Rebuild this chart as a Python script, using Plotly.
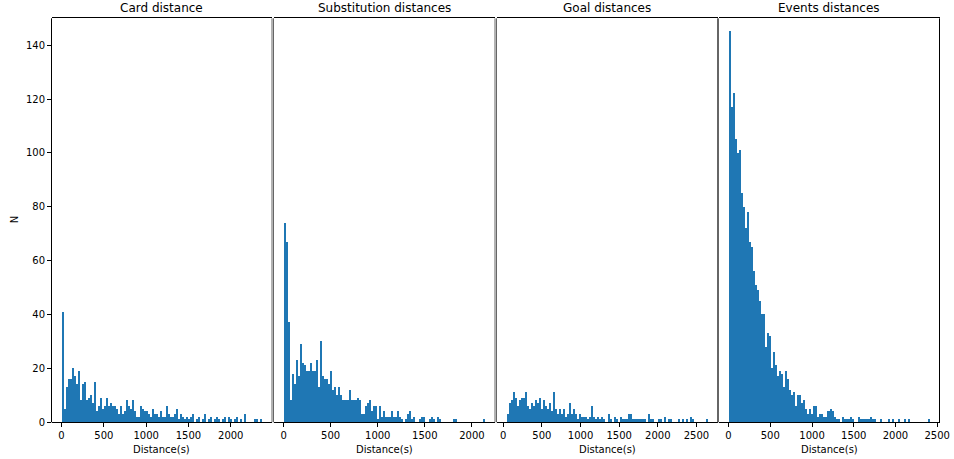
import numpy as np
import plotly.graph_objects as go

# Histogram counts (100 equal-width bins per panel)
card_counts = [
    41, 5, 13, 16, 16, 20, 17, 14, 19, 8,
    14, 15, 8, 9, 10, 7, 15, 4, 6, 9,
    5, 6, 9, 6, 7, 6, 6, 5, 3, 6,
    3, 4, 8, 6, 5, 8, 4, 2, 2, 6,
    5, 4, 4, 3, 2, 5, 3, 3, 2, 4,
    2, 2, 6, 3, 2, 2, 3, 5, 1, 3,
    2, 1, 2, 1, 2, 3, 0, 1, 2, 0,
    1, 3, 0, 1, 2, 0, 1, 2, 1, 0,
    1, 2, 0, 2, 1, 0, 1, 2, 0, 1,
    0, 3, 0, 0, 0, 0, 1, 1, 0, 1,
]
substitution_counts = [
    74, 67, 37, 8, 18, 14, 23, 17, 29, 22,
    21, 19, 19, 22, 19, 19, 23, 13, 30, 17,
    16, 16, 14, 19, 12, 13, 10, 13, 10, 8,
    8, 8, 12, 8, 8, 8, 9, 8, 3, 3,
    6, 7, 8, 4, 6, 6, 1, 6, 2, 4,
    2, 2, 2, 4, 2, 2, 4, 2, 1, 0,
    1, 3, 4, 1, 2, 0, 0, 1, 2, 2,
    0, 0, 1, 2, 1, 0, 2, 1, 0, 0,
    0, 0, 0, 0, 1, 1, 0, 0, 0, 0,
    0, 0, 0, 0, 0, 0, 0, 0, 0, 1,
]
goal_counts = [
    3, 7, 8, 11, 9, 6, 8, 9, 9, 11,
    6, 5, 7, 6, 8, 7, 9, 5, 8, 6,
    5, 7, 4, 11, 5, 3, 5, 3, 5, 2,
    3, 7, 3, 5, 3, 1, 3, 2, 2, 2,
    1, 2, 6, 2, 1, 2, 1, 2, 1, 0,
    3, 1, 0, 2, 1, 0, 2, 1, 1, 1,
    3, 3, 1, 1, 1, 1, 1, 1, 1, 0,
    3, 1, 1, 0, 0, 1, 1, 0, 2, 0,
    1, 1, 0, 0, 0, 1, 0, 1, 0, 1,
    0, 2, 1, 0, 0, 0, 0, 0, 0, 1,
]
events_counts = [
    145, 117, 122, 105, 100, 101, 85, 80, 72, 78,
    67, 65, 56, 51, 49, 45, 40, 40, 28, 33,
    32, 20, 26, 21, 17, 19, 18, 13, 19, 16,
    12, 10, 11, 6, 10, 10, 7, 8, 5, 3,
    5, 3, 6, 6, 2, 3, 3, 2, 2, 4,
    5, 4, 2, 1, 1, 0, 2, 1, 1, 1,
    2, 1, 0, 0, 2, 1, 1, 1, 1, 1,
    2, 1, 1, 0, 0, 1, 0, 0, 0, 1,
    0, 1, 0, 0, 1, 0, 0, 1, 0, 1,
    0, 0, 0, 0, 0, 0, 0, 0, 0, 1,
]

# Range of the distances (seconds) covered by each histogram
card_span = [0, 2369]
substitution_span = [0, 2138]
goal_span = [43, 2642]
events_span = [0, 2407]

panel_titles = ["Card distance", "Substitution distances", "Goal distances", "Events distances"]
x_ticks = [
    [0, 500, 1000, 1500, 2000],
    [0, 500, 1000, 1500, 2000],
    [0, 500, 1000, 1500, 2000, 2500],
    [0, 500, 1000, 1500, 2000, 2500],
]
y_ticks = [0, 20, 40, 60, 80, 100, 120, 140]
x_label = "Distance(s)"
y_label = "N"

panels = [
    (card_counts, card_span),
    (substitution_counts, substitution_span),
    (goal_counts, goal_span),
    (events_counts, events_span),
]

W, H = 954, 459
FONT = "DejaVu Sans"
BAR = "#1f77b4"

# Axes boxes in pixels (left, right) and shared top/bottom
x_boxes = [(51.5, 272.0), (273.5, 495.0), (496.5, 717.5), (718.5, 939.5)]
top_px, bottom_px = 18.3, 422.3
y_dom = [1 - bottom_px / H, 1 - top_px / H]

fig = go.Figure()
annotations = []
shapes = []

for i, ((counts, span), (lpx, rpx)) in enumerate(zip(panels, x_boxes)):
    n = i + 1
    sfx = "" if n == 1 else str(n)
    edges = np.linspace(span[0], span[1], len(counts) + 1)
    centers = (edges[:-1] + edges[1:]) / 2
    widths = np.diff(edges)
    fig.add_trace(go.Bar(
        x=centers, y=counts, width=widths,
        marker=dict(color=BAR, line=dict(width=0)),
        xaxis="x" + sfx, yaxis="y" + sfx, showlegend=False,
        hoverinfo="x+y",
    ))
    r = span[1] - span[0]
    xr = [span[0] - 0.05 * r, span[1] + 0.05 * r]
    dom = [lpx / W, rpx / W]
    tick_style = dict(
        showgrid=False, zeroline=False, automargin=False,
        ticklen=3.5, tickwidth=0.8, tickcolor="black",
        tickfont=dict(family=FONT, size=10, color="black"),
    )
    fig.update_layout(**{
        "xaxis" + sfx: dict(
            domain=dom, range=xr, anchor="y" + sfx,
            showline=True, mirror=True, linecolor="black", linewidth=0.8,
            ticks="outside",
            tickmode="array", tickvals=x_ticks[i],
            ticktext=[str(t) for t in x_ticks[i]],
            **tick_style,
        ),
        "yaxis" + sfx: dict(
            domain=y_dom, range=[0, 150], anchor="x" + sfx,
            showline=False,
            ticks="outside" if n == 1 else "",
            tickmode="array", tickvals=y_ticks,
            ticktext=[str(t) for t in y_ticks],
            showticklabels=(n == 1),
            **tick_style,
        ),
    })
    # vertical frame edges: outer ones solid black, shared ones softer
    for edge_px, outer in ((lpx, n == 1), (rpx, n == 4)):
        shapes.append(dict(
            type="line", xref="paper", yref="paper",
            x0=edge_px / W, x1=edge_px / W, y0=y_dom[0], y1=y_dom[1],
            line=dict(color="black" if outer else "#555555", width=1 if outer else 0.9),
            layer="above",
        ))
    cx = (lpx + rpx) / 2 / W
    annotations.append(dict(
        text=panel_titles[i], x=cx, y=y_dom[1], xref="paper", yref="paper",
        xanchor="center", yanchor="bottom", yshift=1, showarrow=False,
        font=dict(family=FONT, size=12, color="black"),
    ))
    annotations.append(dict(
        text=x_label, x=cx, y=1 - 449 / H, xref="paper", yref="paper",
        xanchor="center", yanchor="middle", showarrow=False,
        font=dict(family=FONT, size=10, color="black"),
    ))

annotations.append(dict(
    text=y_label, x=14 / W, y=(y_dom[0] + y_dom[1]) / 2, xref="paper", yref="paper",
    xanchor="center", yanchor="middle", textangle=-90, showarrow=False,
    font=dict(family=FONT, size=10, color="black"),
))

fig.update_layout(
    template="none",
    width=W, height=H, autosize=False,
    margin=dict(l=0, r=0, t=0, b=0, pad=0),
    paper_bgcolor="white", plot_bgcolor="white",
    bargap=0, barmode="overlay",
    annotations=annotations,
    shapes=shapes,
    font=dict(family=FONT, size=10, color="black"),
)

# Keep the page exactly the size of the figure (no body margin or scrollbars)
page_css = (
    "document.documentElement.style.margin='0';"
    "document.documentElement.style.padding='0';"
    "document.documentElement.style.overflow='hidden';"
    "document.body.style.margin='0';"
    "document.body.style.padding='0';"
    "document.body.style.overflow='hidden';"
)

fig.write_html("out.html", post_script=page_css, config={"responsive": False, "displayModeBar": False})
